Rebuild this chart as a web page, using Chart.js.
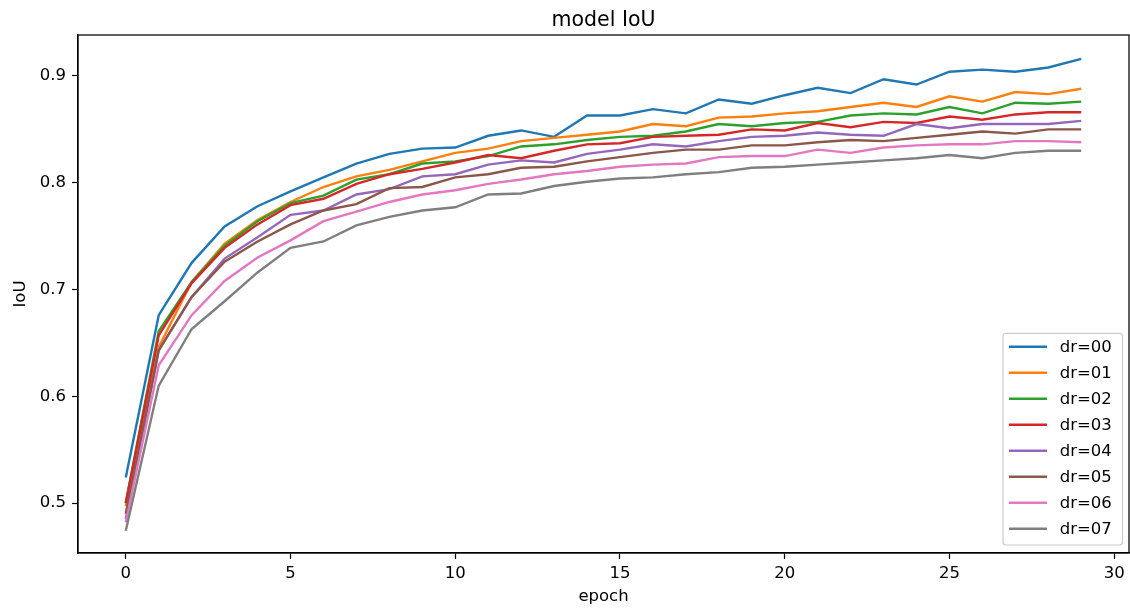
<!DOCTYPE html>
<html lang="en">
<head>
  <meta charset="UTF-8" />
  <title>model IoU</title>
  <style>
    * { margin: 0; padding: 0; box-sizing: border-box; }
    body { background: #fff; width: 1130px; height: 610px; overflow: hidden; }
    canvas { display: block; }
  </style>
</head>
<body>
  <canvas id="iouChart" width="1130" height="610"></canvas>

  <script src="https://cdn.jsdelivr.net/npm/chart.js"></script>
  <script>
    // values
    const epochs = [0, 1, 2, 3, 4, 5, 6, 7, 8, 9, 10, 11, 12, 13, 14, 15, 16, 17, 18, 19, 20, 21, 22, 23, 24, 25, 26, 27, 28, 29];
    const seriesNames = ['dr=00', 'dr=01', 'dr=02', 'dr=03', 'dr=04', 'dr=05', 'dr=06', 'dr=07'];
    const dr00 = [0.524, 0.676, 0.725, 0.759, 0.778, 0.792, 0.805, 0.818, 0.827, 0.832, 0.833, 0.844, 0.849, 0.843, 0.863, 0.863, 0.869, 0.865, 0.878, 0.874, 0.882, 0.889, 0.884, 0.897, 0.892, 0.904, 0.906, 0.904, 0.908, 0.916];
    const dr01 = [0.497, 0.646, 0.707, 0.743, 0.765, 0.782, 0.796, 0.806, 0.812, 0.820, 0.828, 0.832, 0.839, 0.842, 0.845, 0.848, 0.855, 0.853, 0.861, 0.862, 0.865, 0.867, 0.871, 0.875, 0.871, 0.881, 0.876, 0.885, 0.883, 0.888];
    const dr02 = [0.500, 0.661, 0.707, 0.741, 0.764, 0.781, 0.788, 0.803, 0.808, 0.818, 0.820, 0.825, 0.834, 0.836, 0.840, 0.843, 0.844, 0.848, 0.855, 0.853, 0.856, 0.857, 0.863, 0.865, 0.864, 0.871, 0.865, 0.875, 0.874, 0.876];
    const dr03 = [0.500, 0.657, 0.706, 0.739, 0.761, 0.779, 0.785, 0.799, 0.808, 0.813, 0.819, 0.826, 0.823, 0.830, 0.836, 0.837, 0.843, 0.844, 0.845, 0.850, 0.849, 0.856, 0.852, 0.857, 0.856, 0.862, 0.859, 0.864, 0.866, 0.866];
    const dr04 = [0.485, 0.643, 0.693, 0.729, 0.749, 0.770, 0.774, 0.789, 0.794, 0.806, 0.808, 0.817, 0.821, 0.819, 0.827, 0.831, 0.836, 0.834, 0.839, 0.843, 0.844, 0.847, 0.845, 0.844, 0.855, 0.851, 0.855, 0.855, 0.855, 0.858];
    const dr05 = [0.490, 0.643, 0.693, 0.726, 0.745, 0.761, 0.774, 0.780, 0.795, 0.796, 0.805, 0.808, 0.814, 0.815, 0.820, 0.824, 0.828, 0.831, 0.831, 0.835, 0.835, 0.838, 0.840, 0.839, 0.842, 0.845, 0.848, 0.846, 0.850, 0.850];
    const dr06 = [0.482, 0.629, 0.676, 0.708, 0.730, 0.746, 0.764, 0.773, 0.782, 0.789, 0.793, 0.799, 0.803, 0.808, 0.811, 0.815, 0.817, 0.818, 0.824, 0.825, 0.825, 0.831, 0.828, 0.833, 0.835, 0.836, 0.836, 0.839, 0.839, 0.838];
    const dr07 = [0.474, 0.610, 0.663, 0.689, 0.716, 0.739, 0.745, 0.760, 0.768, 0.774, 0.777, 0.789, 0.790, 0.797, 0.801, 0.804, 0.805, 0.808, 0.810, 0.814, 0.815, 0.817, 0.819, 0.821, 0.823, 0.826, 0.823, 0.828, 0.830, 0.830];
    const xTicks = [0, 5, 10, 15, 20, 25, 30];
    const yTicks = [0.5, 0.6, 0.7, 0.8, 0.9];
    const chartTitle = 'model IoU';

    const allSeries = [dr00, dr01, dr02, dr03, dr04, dr05, dr06, dr07];
    const colors = ['#1f77b4', '#ff7f0e', '#2ca02c', '#d62728', '#9467bd', '#8c564b', '#e377c2', '#7f7f7f'];

    Chart.defaults.font.family = "'DejaVu Sans', sans-serif";
    Chart.defaults.color = '#000';

    // matplotlib style box around the axes + title centred over the axes
    const frame = {
      id: 'frame',
      afterDatasetsDraw(chart) {
        const { ctx, chartArea: a } = chart;
        ctx.save();
        ctx.strokeStyle = '#000';
        ctx.lineWidth = 1.25;
        ctx.strokeRect(a.left, a.top, a.right - a.left, a.bottom - a.top);
        ctx.font = "20.5px 'DejaVu Sans'";
        ctx.fillStyle = '#000';
        ctx.textAlign = 'center';
        ctx.textBaseline = 'alphabetic';
        ctx.fillText(chartTitle, (a.left + a.right) / 2, a.top - 9);
        ctx.restore();
      }
    };

    // legend inside the lower right corner
    const boxLegend = {
      id: 'boxLegend',
      afterDraw(chart) {
        const { ctx, chartArea: a } = chart;
        const w = 119.5, rowH = 26, h = 211.7;
        const x = a.right - 6.5 - w;
        const y = a.bottom - 8 - h;
        ctx.save();
        ctx.beginPath();
        ctx.roundRect(x, y, w, h, 3);
        ctx.fillStyle = 'rgba(255,255,255,0.8)';
        ctx.fill();
        ctx.strokeStyle = '#cccccc';
        ctx.lineWidth = 1.2;
        ctx.stroke();
        ctx.font = "16.5px 'DejaVu Sans'";
        ctx.textBaseline = 'middle';
        ctx.fillStyle = '#000';
        chart.data.datasets.forEach((ds, i) => {
          const cy = y + 13.4 + i * rowH;
          ctx.beginPath();
          ctx.moveTo(x + 6, cy);
          ctx.lineTo(x + 44, cy);
          ctx.strokeStyle = ds.borderColor;
          ctx.lineWidth = 2.4;
          ctx.stroke();
          ctx.fillText(ds.label, x + 56.7, cy + 1);
        });
        ctx.restore();
      }
    };

    const datasets = allSeries.map((vals, i) => ({
      label: seriesNames[i],
      data: vals.map((v, j) => ({ x: epochs[j], y: v })),
      borderColor: colors[i],
      backgroundColor: colors[i],
      borderWidth: 2.4,
      pointRadius: 0,
      tension: 0,
      fill: false,
      order: allSeries.length - i
    }));

    new Chart(document.getElementById('iouChart'), {
      type: 'line',
      data: { datasets },
      options: {
        responsive: false,
        animation: false,
        events: [],
        layout: { padding: { left: 0, right: 1, top: 35, bottom: 0 } },
        plugins: {
          legend: { display: false },
          tooltip: { enabled: false },
          title: { display: false }
        },
        scales: {
          x: {
            type: 'linear',
            min: -1.45,
            max: 30.45,
            afterBuildTicks(scale) { scale.ticks = xTicks.map(v => ({ value: v })); },
            afterFit(scale) { scale.height = 57; },
            ticks: {
              font: { size: 16.5 },
              color: '#000',
              padding: 5,
              maxRotation: 0,
              callback: v => String(v)
            },
            grid: {
              drawOnChartArea: false,
              drawTicks: true,
              tickLength: 6,
              tickWidth: 1.2,
              tickColor: '#000'
            },
            border: { display: true, color: '#000', width: 1.25 },
            title: {
              display: true,
              text: 'epoch',
              font: { size: 16.5 },
              color: '#000',
              padding: { top: 0, bottom: 3 }
            }
          },
          y: {
            type: 'linear',
            min: 0.4532,
            max: 0.9384,
            afterBuildTicks(scale) { scale.ticks = yTicks.map(v => ({ value: v })); },
            afterFit(scale) { scale.width = 78; },
            ticks: {
              font: { size: 16.5 },
              color: '#000',
              padding: 6,
              callback: v => v.toFixed(1)
            },
            grid: {
              drawOnChartArea: false,
              drawTicks: true,
              tickLength: 6,
              tickWidth: 1.2,
              tickColor: '#000'
            },
            border: { display: true, color: '#000', width: 1.25 },
            title: {
              display: true,
              text: 'IoU',
              font: { size: 16.5 },
              color: '#000',
              padding: { top: 11, bottom: 0 }
            }
          }
        }
      },
      plugins: [frame, boxLegend]
    });
  </script>
</body>
</html>
